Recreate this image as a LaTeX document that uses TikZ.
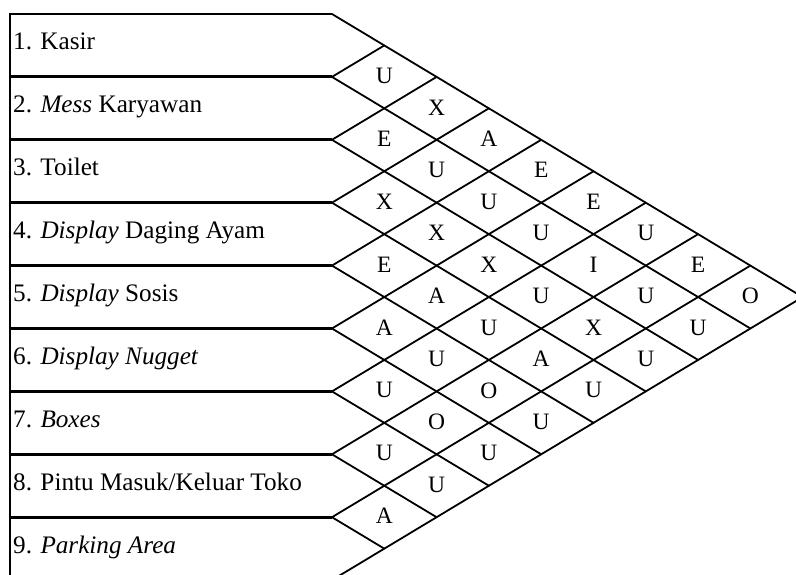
\documentclass[tikz,border=0pt]{standalone}
\usepackage{fontspec}
\setmainfont{Liberation Serif}
\newcommand\arcW{52.3}
\newcommand\arcH{31.45}
\newcommand\arcX{332}
\newcommand\arcT{14}
\begin{document}
\begin{tikzpicture}[x=1pt,y=-1pt,
  gridline/.style={line width=1.8pt, line cap=round},
  boundline/.style={line width=3pt},
  rowtext/.style={anchor=base west, inner sep=0pt, font=\fontsize{25.2}{29}\selectfont},
  rel/.style={inner sep=0pt, font=\fontsize{23.5}{27}\selectfont}]
\useasboundingbox (0,0) rectangle (796,575);
\fill[white] (0,0) rectangle (796,575);
\begin{scope}
\clip (0,0) rectangle (796,575);
% boundary points
\foreach \k in {0,...,9}{
  \coordinate (b\k) at (\arcX,{\arcT+2*\arcH*\k});
}
% horizontal row boundaries
\draw[line width=1.9pt] (10,\arcT) -- (b0);
\foreach \k in {1,...,9}{
  \draw[boundline] (10,{\arcT+2*\arcH*\k}) -- (b\k);
}
% left border
\draw[line width=2pt] (10,{\arcT-0.9}) -- (10,590);
% diagonal grid
\foreach \k in {0,...,8}{
  \draw[gridline] (b\k) -- ++({(9-\k)*\arcW},{(9-\k)*\arcH});
}
\foreach \k in {1,...,9}{
  \draw[gridline] (b\k) -- ++({\k*\arcW},{-\k*\arcH});
}
% relationship letters
\foreach \i/\j/\l in {1/2/U,1/3/X,1/4/A,1/5/E,1/6/E,1/7/U,1/8/E,1/9/O,
  2/3/E,2/4/U,2/5/U,2/6/U,2/7/I,2/8/U,2/9/U,
  3/4/X,3/5/X,3/6/X,3/7/U,3/8/X,3/9/U,
  4/5/E,4/6/A,4/7/U,4/8/A,4/9/U,
  5/6/A,5/7/U,5/8/O,5/9/U,
  6/7/U,6/8/O,6/9/U,
  7/8/U,7/9/U,
  8/9/A}{
  \node[rel] (r\i-\j) at ({\arcX+(\j-\i)*\arcW},{\arcT+(\i+\j-1)*\arcH-1}) {\l};
}
% row texts
\node[rowtext] (row1) at (13,{\arcT+1*\arcH+4.5}) {1. Kasir};
\node[rowtext] (row2) at (13,{\arcT+3*\arcH+4.5}) {2. \textit{Mess} Karyawan};
\node[rowtext] (row3) at (13,{\arcT+5*\arcH+4.5}) {3. Toilet};
\node[rowtext] (row4) at (13,{\arcT+7*\arcH+4.5}) {4. \textit{Display} Daging Ayam};
\node[rowtext] (row5) at (13,{\arcT+9*\arcH+4.5}) {5. \textit{Display} Sosis};
\node[rowtext] (row6) at (13,{\arcT+11*\arcH+4.5}) {6. \textit{Display Nugget}};
\node[rowtext] (row7) at (13,{\arcT+13*\arcH+4.5}) {7. \textit{Boxes}};
\node[rowtext] (row8) at (13,{\arcT+15*\arcH+4.5}) {8. Pintu Masuk/Keluar Toko};
\node[rowtext] (row9) at (13,{\arcT+17*\arcH+4.5}) {9. \textit{Parking Area}};
\end{scope}
\end{tikzpicture}
\end{document}
